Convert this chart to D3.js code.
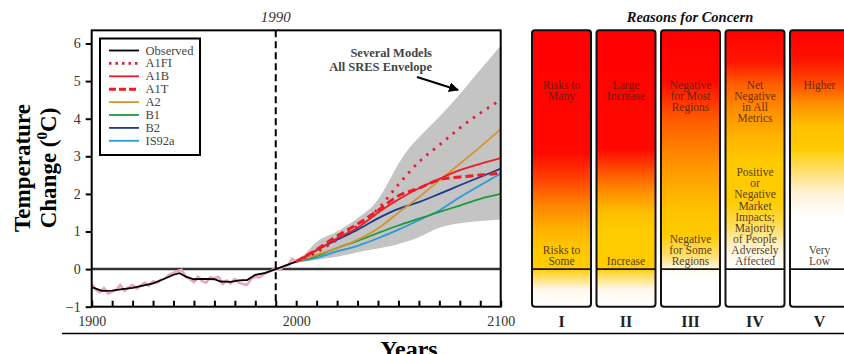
<!DOCTYPE html>
<html><head><meta charset="utf-8">
<script src="https://cdn.jsdelivr.net/npm/d3@7"></script>
<style>
html,body{margin:0;padding:0;background:#fff;}
svg{display:block;font-family:"Liberation Serif","Times New Roman",serif;}
</style></head>
<body>
<svg id="c" width="844" height="354"></svg>
<script>
// ---------- DATA ----------
const obsYears = [1900,1905,1910,1915,1920,1925,1930,1935,1940,1943,1946,1950,1955,1960,1963,1968,1972,1976,1980,1985,1990,1995,2000];
const obsValues = [-0.48,-0.58,-0.57,-0.53,-0.5,-0.44,-0.38,-0.27,-0.15,-0.11,-0.2,-0.27,-0.26,-0.27,-0.33,-0.34,-0.3,-0.29,-0.15,-0.1,0.0,0.1,0.2];

const rawYears = [1900,1902,1904,1906,1908,1910,1912,1914,1916,1918,1920,1922,1924,1926,1928,1930,1932,1934,1936,1938,1940,1942,1944,1946,1948,1950,1952,1954,1956,1958,1960,1962,1964,1966,1968,1970,1972,1974,1976,1978,1980,1982,1984,1986,1988,1990,1992,1994,1996,1998,2000];
const rawValues = [-0.38,-0.55,-0.62,-0.5,-0.65,-0.6,-0.55,-0.42,-0.58,-0.5,-0.42,-0.52,-0.44,-0.36,-0.45,-0.32,-0.36,-0.28,-0.24,-0.14,-0.1,-0.05,-0.02,-0.2,-0.26,-0.35,-0.2,-0.32,-0.36,-0.22,-0.25,-0.2,-0.4,-0.3,-0.38,-0.26,-0.36,-0.4,-0.42,-0.26,-0.2,-0.22,-0.14,-0.08,-0.04,0.05,-0.02,0.08,0.1,0.28,0.18];

const projYears = [2000,2010,2020,2030,2040,2050,2060,2070,2080,2090,2100];
const A1FI  = [0.2,0.45,0.78,1.15,1.6,2.25,2.85,3.3,3.75,4.15,4.5];
const A1B   = [0.2,0.5,0.82,1.1,1.5,1.85,2.15,2.4,2.63,2.8,2.95];
const A1T   = [0.2,0.52,0.88,1.2,1.56,1.95,2.15,2.38,2.45,2.5,2.55];
const A2    = [0.2,0.38,0.55,0.78,1.08,1.5,1.91,2.36,2.8,3.25,3.72];
const B1    = [0.2,0.35,0.56,0.75,0.96,1.16,1.34,1.52,1.69,1.87,2.0];
const B2    = [0.2,0.5,0.78,1.05,1.35,1.6,1.78,2.0,2.23,2.45,2.67];
const IS92a = [0.2,0.3,0.47,0.62,0.82,1.05,1.3,1.56,1.91,2.23,2.54];

const envYears = [1995,2000,2005,2010,2020,2030,2040,2045,2050,2055,2060,2070,2080,2090,2100];
const envUpper = [0.12,0.22,0.45,0.72,1.0,1.35,1.85,2.3,2.8,3.2,3.5,4.05,4.65,5.3,5.95];
const envLower = [0.06,0.18,0.21,0.25,0.33,0.45,0.55,0.6,0.67,0.75,0.85,1.1,1.22,1.28,1.32];

const yTicks = [-1,0,1,2,3,4,5,6];
const xTicks = [1900,1910,1920,1930,1940,1950,1960,1970,1980,1990,2000,2010,2020,2030,2040,2050,2060,2070,2080,2090,2100];
const xLabels = [1900,2000,2100];

const concernNumerals = ["I","II","III","IV","V"];
const concernTop = [["Risks to","Many"],["Large","Increase"],["Negative","for Most","Regions"],["Net","Negative","in All","Metrics"],["Higher"]];
const concernBottom = [["Risks to","Some"],["Increase"],["Negative","for Some","Regions"],["Positive","or","Negative","Market","Impacts;","Majority","of People","Adversely","Affected"],["Very","Low"]];
// gradient stops: [temperature, colour]
const concernStops = [
  [[6.35,"#ff0000"],[3.1,"#ff0800"],[2.3,"#ff4a00"],[1.7,"#ff8400"],[1.0,"#ffb600"],[0.5,"#ffc800"],[0,"#ffcc00"],[-0.15,"#ffd84a"],[-0.55,"#fff8ee"],[-1,"#ffffff"]],
  [[6.35,"#ff0000"],[3.2,"#ff0800"],[2.6,"#ff5200"],[2.0,"#ff9400"],[1.5,"#ffbf00"],[1.0,"#ffcc00"],[0,"#ffcc00"],[-0.15,"#ffdc5a"],[-0.55,"#fff8ee"],[-1,"#ffffff"]],
  [[6.35,"#ff0000"],[5.0,"#ff0a00"],[4.0,"#ff5a00"],[3.0,"#ff8a00"],[2.2,"#ffaa00"],[1.5,"#ffc400"],[0.9,"#ffcc00"],[0.35,"#ffdf70"],[0,"#fff8e8"],[-0.2,"#ffffff"],[-1,"#ffffff"]],
  [[6.35,"#ff0000"],[5.5,"#ff1800"],[4.9,"#ff6000"],[4.2,"#ff9000"],[3.5,"#ffb400"],[2.8,"#ffca00"],[1.8,"#ffcc00"],[1.2,"#ffdc50"],[0.6,"#fff2cc"],[0.1,"#ffffff"],[-1,"#ffffff"]],
  [[6.35,"#ff0000"],[5.6,"#ff1000"],[4.9,"#ff5000"],[4.4,"#ff9000"],[3.8,"#ffc000"],[3.2,"#ffcc00"],[2.6,"#ffe070"],[2.0,"#fff2d8"],[1.4,"#ffffff"],[-1,"#ffffff"]]
];

// ---------- CHART ----------
const svg = d3.select("#c");
const x = d3.scaleLinear().domain([1900,2100]).range([91.7,500.7]);
const y = d3.scaleLinear().domain([-1,6]).range([306.7,43.5]);
const yTop = y(6.35), yBot = y(-1);
const defs = svg.append("defs");
defs.append("marker").attr("id","arr").attr("viewBox","0 0 10 10").attr("refX",9).attr("refY",5)
  .attr("markerWidth",5).attr("markerHeight",5).attr("orient","auto")
  .append("path").attr("d","M0,0L10,5L0,10z").attr("fill","#000");

const line = d3.line().x(d=>x(d[0])).y(d=>y(d[1]));
const sline = d3.line().x(d=>x(d[0])).y(d=>y(d[1])).curve(d3.curveMonotoneX);
const zip = (a,b)=>a.map((v,i)=>[v,b[i]]);

// envelope
const area = d3.area().x(d=>x(d[0])).y0(d=>y(d[2])).y1(d=>y(d[1])).curve(d3.curveMonotoneX);
svg.append("path").datum(envYears.map((v,i)=>[v,envUpper[i],envLower[i]]))
  .attr("d",area).attr("fill","#c4c4c4");

// zero line
svg.append("line").attr("x1",x(1900)).attr("x2",x(2100)).attr("y1",y(0)).attr("y2",y(0))
  .attr("stroke","#333").attr("stroke-width",2.5);

// observed
svg.append("path").datum(zip(rawYears,rawValues)).attr("d",line).attr("fill","none")
  .attr("stroke","#eda4bd").attr("stroke-width",2.6).attr("stroke-linejoin","round");
svg.append("path").datum(zip(obsYears,obsValues)).attr("d",line).attr("fill","none")
  .attr("stroke","#000").attr("stroke-width",1.8);

const series = [
  {name:"IS92a",v:IS92a,c:"#2a9ad8",w:1.8,d:null},
  {name:"B1",v:B1,c:"#1e9a3c",w:1.8,d:null},
  {name:"B2",v:B2,c:"#1a3a8c",w:1.8,d:null},
  {name:"A2",v:A2,c:"#d4952a",w:1.8,d:null},
  {name:"A1T",v:A1T,c:"#ee1c24",w:3,d:"8,4"},
  {name:"A1B",v:A1B,c:"#ee1c24",w:1.8,d:null},
  {name:"A1FI",v:A1FI,c:"#e0203a",w:2.8,d:"2.5,6"}
];
series.forEach(s=>{
  svg.append("path").datum(zip(projYears,s.v)).attr("d",sline).attr("fill","none")
    .attr("stroke",s.c).attr("stroke-width",s.w).attr("stroke-dasharray",s.d);
});

// 1990 dashed line
svg.append("line").attr("x1",x(1990)).attr("x2",x(1990)).attr("y1",yTop).attr("y2",yBot)
  .attr("stroke","#000").attr("stroke-width",2).attr("stroke-dasharray","7,4");
svg.append("text").attr("x",x(1990)).attr("y",22).attr("text-anchor","middle")
  .attr("font-style","italic").attr("font-size",15).attr("fill","#333").text("1990");

// frame
svg.append("rect").attr("x",x(1900)).attr("y",yTop).attr("width",x(2100)-x(1900)).attr("height",yBot-yTop)
  .attr("fill","none").attr("stroke","#000").attr("stroke-width",2);

// axes
const ya = svg.append("g").attr("transform",`translate(${x(1900)},0)`)
  .call(d3.axisLeft(y).tickValues(yTicks).tickSize(6).tickPadding(5).tickFormat(d3.format("d")));
ya.select(".domain").remove();
ya.selectAll("line").attr("stroke","#000").attr("stroke-width",2);
ya.selectAll("text").attr("font-family","Liberation Serif").attr("font-size",14).attr("fill","#333");

const xa = svg.append("g").attr("transform",`translate(0,${yBot})`)
  .call(d3.axisBottom(x).tickValues(xTicks).tickSize(-6).tickPadding(9)
    .tickFormat(d=>xLabels.includes(d)?String(d):""));
xa.select(".domain").remove();
xa.selectAll("line").attr("stroke","#000").attr("stroke-width",2);
xa.selectAll("text").attr("font-family","Liberation Serif").attr("font-size",14).attr("fill","#333");

// axis titles
const yl = svg.append("text").attr("transform","translate(30,168) rotate(-90)").attr("text-anchor","middle")
  .attr("font-weight","bold").attr("font-size",23).attr("fill","#000");
yl.text("Temperature");
const yl2 = svg.append("text").attr("transform","translate(56,168) rotate(-90)").attr("text-anchor","middle")
  .attr("font-weight","bold").attr("font-size",23).attr("fill","#000");
yl2.append("tspan").text("Change (");
yl2.append("tspan").attr("font-size",15).attr("dy",-9).text("0");
yl2.append("tspan").attr("dy",9).text("C)");

svg.append("text").attr("x",409).attr("y",357).attr("text-anchor","middle")
  .attr("font-weight","bold").attr("font-size",24).attr("fill","#000").text("Years");

// annotation
svg.append("text").attr("x",432).attr("y",57).attr("text-anchor","end").attr("font-size",12.5)
  .attr("font-weight","bold").attr("fill","#444").text("Several Models");
svg.append("text").attr("x",432).attr("y",71).attr("text-anchor","end").attr("font-size",12.5)
  .attr("font-weight","bold").attr("fill","#444").text("All SRES Envelope");
svg.append("line").attr("x1",417).attr("y1",77).attr("x2",458).attr("y2",90)
  .attr("stroke","#000").attr("stroke-width",2).attr("marker-end","url(#arr)");

// legend
const lg = svg.append("g");
lg.append("rect").attr("x",100).attr("y",38.5).attr("width",100).attr("height",116.5)
  .attr("fill","#fff").attr("stroke","#000").attr("stroke-width",2);
const legendItems = [
  {name:"Observed",c:"#000",w:1.8,d:null},
  {name:"A1FI",c:"#e0203a",w:2.6,d:"2.5,4"},
  {name:"A1B",c:"#ee1c24",w:1.8,d:null},
  {name:"A1T",c:"#ee1c24",w:3,d:"7,3"},
  {name:"A2",c:"#d4952a",w:1.8,d:null},
  {name:"B1",c:"#1e9a3c",w:1.8,d:null},
  {name:"B2",c:"#1a3a8c",w:1.8,d:null},
  {name:"IS92a",c:"#2a9ad8",w:1.8,d:null}
];
legendItems.forEach((it,i)=>{
  const yy = 50.5 + i*12.9;
  lg.append("line").attr("x1",109).attr("x2",139).attr("y1",yy).attr("y2",yy)
    .attr("stroke",it.c).attr("stroke-width",it.w).attr("stroke-dasharray",it.d);
  lg.append("text").attr("x",145.5).attr("y",yy+4).attr("font-size",12.5).attr("fill","#444").text(it.name);
});

// ---------- REASONS FOR CONCERN ----------
svg.append("text").attr("x",690).attr("y",22).attr("text-anchor","middle")
  .attr("font-weight","bold").attr("font-style","italic").attr("font-size",14.5).attr("fill","#111")
  .text("Reasons for Concern");

const colX = d3.scaleBand().domain(concernNumerals).range([532,849]).paddingInner(0.085).paddingOuter(0);
concernNumerals.forEach((n,i)=>{
  const gid = "g"+i;
  const g = defs.append("linearGradient").attr("id",gid).attr("gradientUnits","userSpaceOnUse")
    .attr("x1",0).attr("x2",0).attr("y1",yTop).attr("y2",yBot);
  concernStops[i].forEach(s=>{
    g.append("stop").attr("offset",(y(s[0])-yTop)/(yBot-yTop)).attr("stop-color",s[1]);
  });
  const cx0 = colX(n), w = colX.bandwidth();
  svg.append("rect").attr("x",cx0).attr("y",yTop).attr("width",w).attr("height",yBot-yTop)
    .attr("rx",3).attr("fill",`url(#${gid})`).attr("stroke","#111").attr("stroke-width",2);
  svg.append("line").attr("x1",cx0).attr("x2",cx0+w).attr("y1",y(0)).attr("y2",y(0))
    .attr("stroke","#111").attr("stroke-width",1.8);
  const mid = cx0 + w/2;
  concernTop[i].forEach((t,j)=>{
    svg.append("text").attr("x",mid).attr("y",89+j*11).attr("text-anchor","middle")
      .attr("font-size",11.5).attr("fill","#4a2010").attr("fill-opacity",0.85).text(t);
  });
  const nb = concernBottom[i].length;
  concernBottom[i].forEach((t,j)=>{
    svg.append("text").attr("x",mid).attr("y",265-(nb-1-j)*11.1).attr("text-anchor","middle")
      .attr("font-size",11.5).attr("fill","#3a2a1a").attr("fill-opacity",0.9).text(t);
  });
  svg.append("text").attr("x",mid).attr("y",327).attr("text-anchor","middle")
    .attr("font-weight","bold").attr("font-size",16).attr("fill","#222").text(n);
});

// bottom rule
svg.append("line").attr("x1",62).attr("x2",844).attr("y1",333.5).attr("y2",333.5)
  .attr("stroke","#000").attr("stroke-width",1.5);
</script>
</body></html>
